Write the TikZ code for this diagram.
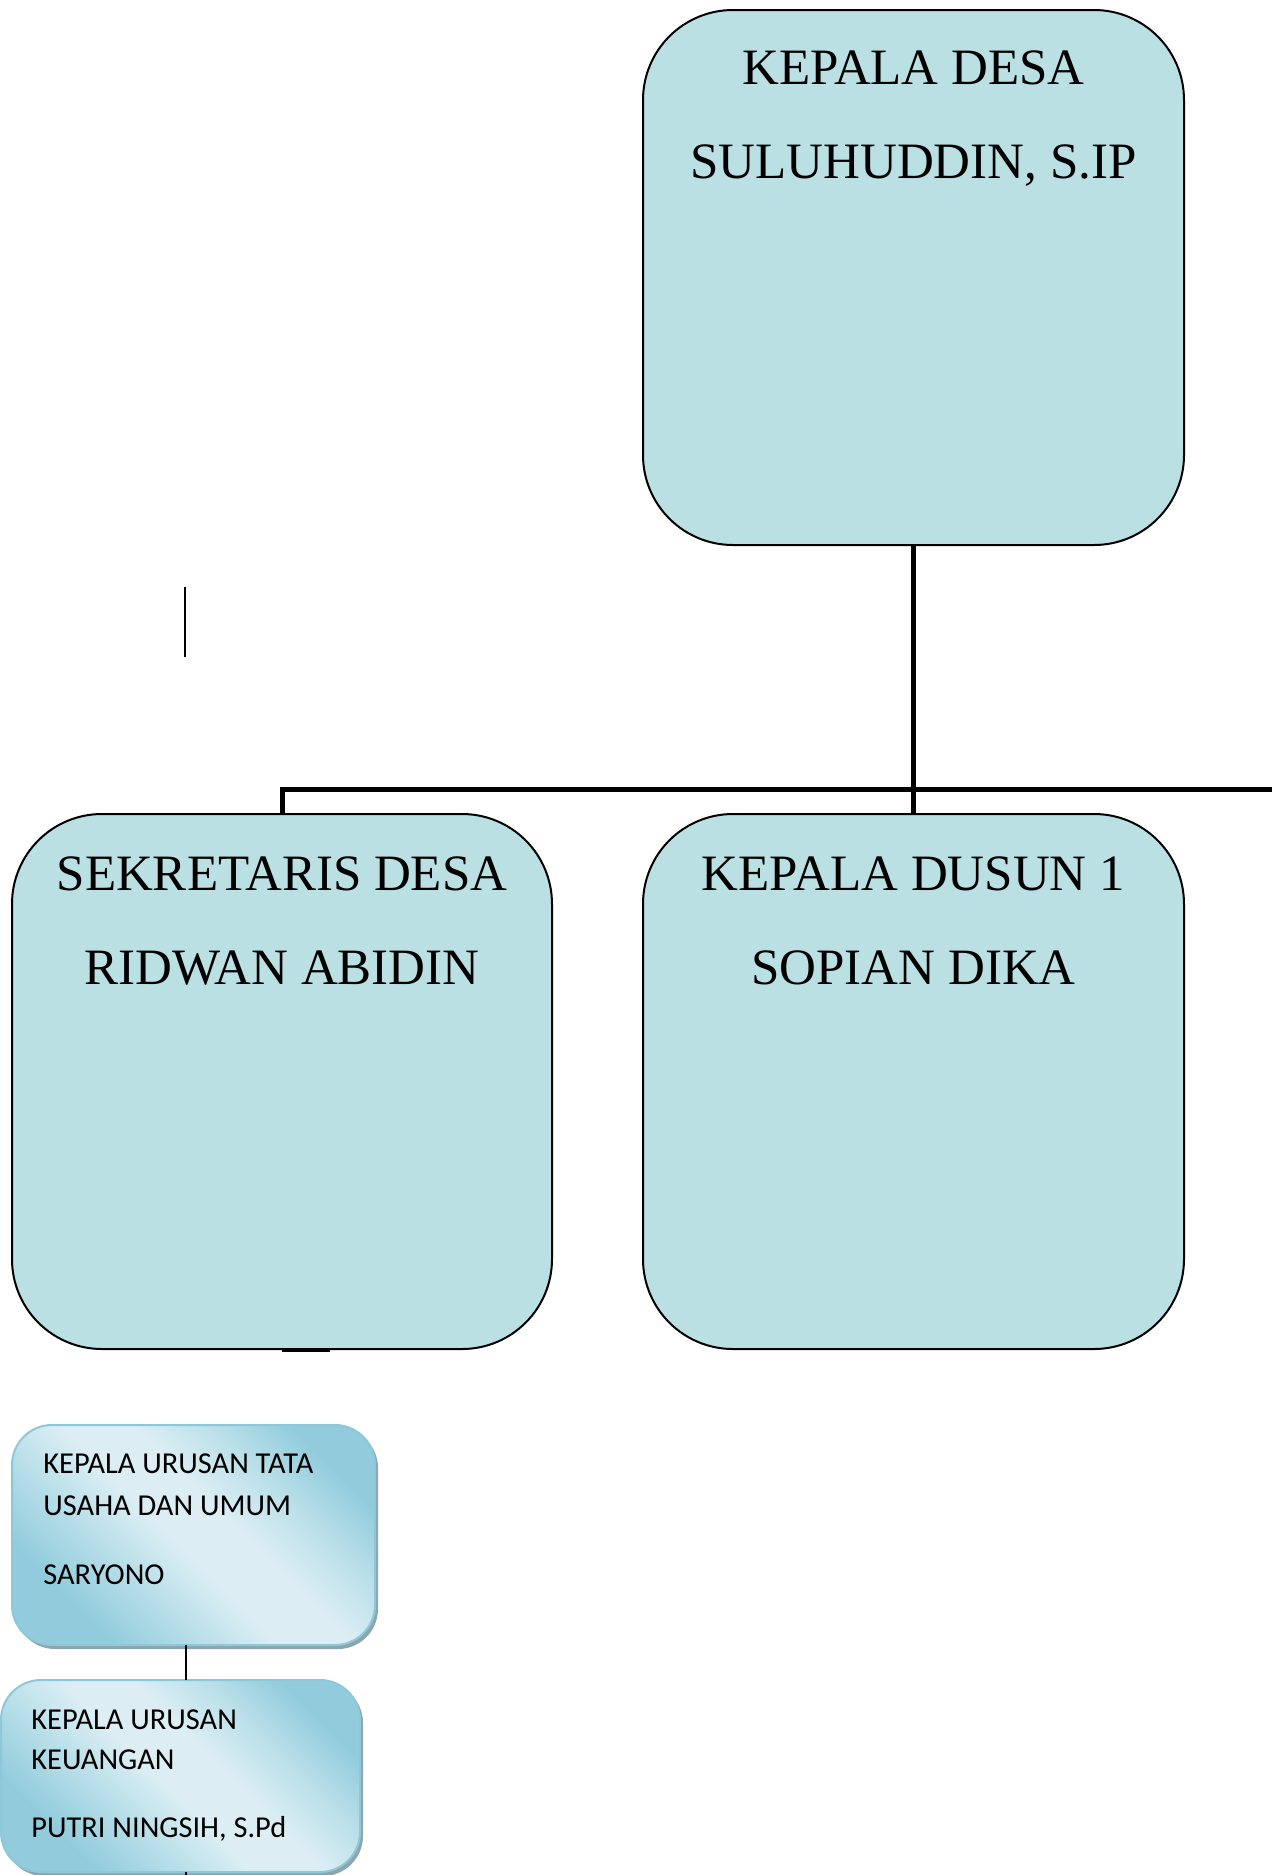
\documentclass[tikz,border=0pt]{standalone}
\usepackage{fontspec}
\newfontfamily\tnrfont{Liberation Serif}
\newfontfamily\calfont{Carlito}
\definecolor{bigfill}{RGB}{186,224,228}
\definecolor{gdark}{RGB}{146,204,220}
\definecolor{gmid}{RGB}{185,223,233}
\definecolor{glight}{RGB}{220,238,244}
\definecolor{gborder}{RGB}{140,200,218}
\definecolor{gshadow}{RGB}{140,165,175}
\pgfdeclareverticalshading{diagband}{100bp}{color(0bp)=(gdark); color(27bp)=(gdark); color(38bp)=(gmid); color(47bp)=(glight); color(56bp)=(glight); color(66bp)=(gmid); color(75bp)=(gdark); color(100bp)=(gdark)}
\tikzset{
  bigbox/.style={draw=black, line width=1pt, fill=bigfill, rounded corners=45pt, inner sep=0pt, outer sep=0pt},
  smallbox/.style={draw=gborder, line width=1pt, rounded corners=20pt, inner sep=0pt, outer sep=0pt,
    shade, shading=diagband, shading angle=-45},
  shadowbox/.style={fill=gshadow, rounded corners=20pt},
  bigtxt/.style={anchor=base, inner sep=0pt, font=\tnrfont\fontsize{25.5pt}{30pt}\selectfont},
  smalltxt/.style={anchor=base west, inner sep=0pt, font=\calfont\fontsize{15.2pt}{17pt}\selectfont},
  heavy/.style={line width=2.5pt},
  thinline/.style={line width=0.8pt}
}
\begin{document}
\begin{tikzpicture}[x=0.5pt,y=-0.5pt]
\useasboundingbox (0,0) rectangle (1272,1875);
% big boxes
\node[bigbox, minimum width=270.5pt, minimum height=267.5pt] (kdesa) at (913.5,277.5) {};
\node[bigbox, minimum width=270pt, minimum height=267.5pt] (sek) at (282,1081.5) {};
\node[bigbox, minimum width=270.5pt, minimum height=267.5pt] (dusun) at (913.5,1081.5) {};
% texts big
\node[bigtxt] (t1) at (913.5,84) {KEPALA DESA};
\node[bigtxt] (t2) at (913.5,178) {SULUHUDDIN, S.IP};
\node[bigtxt] (t3) at (282,890) {SEKRETARIS DESA};
\node[bigtxt] (t4) at (282,984) {RIDWAN ABIDIN};
\node[bigtxt] (t5) at (913.5,890) {KEPALA DUSUN 1};
\node[bigtxt] (t6) at (913.5,984) {SOPIAN DIKA};
% connectors
\coordinate (barR) at (1272,789);
\draw[heavy] (kdesa.south) -- (dusun.north);
\draw[heavy] (barR) -| (sek.north);
% stray lines
\coordinate (s1) at (185,587);
\coordinate (s2) at (185,657);
\draw[thinline] (s1) -- (s2);
\coordinate (u1) at (282,1350.5);
\coordinate (u2) at (330,1350.5);
\draw[line width=1.2pt] (u1) -- (u2);
% small boxes
\fill[shadowbox] (15,1428) rectangle (378,1649);
\fill[shadowbox] (4,1683) rectangle (363,1876);
\node[smallbox, minimum width=181.5pt, minimum height=110pt] (tu) at (193.5,1535) {};
\node[smallbox, minimum width=179.5pt, minimum height=96pt] (keu) at (180.5,1776) {};
\node[smalltxt] (a1) at (43,1473) {KEPALA URUSAN TATA};
\node[smalltxt] (a2) at (43,1515) {USAHA DAN UMUM};
\node[smalltxt] (a3) at (43,1584) {SARYONO};
\node[smalltxt] (b1) at (31,1729) {KEPALA URUSAN};
\node[smalltxt] (b2) at (31,1769) {KEUANGAN};
\node[smalltxt] (b3) at (31,1837) {PUTRI NINGSIH, S.Pd};
\coordinate (c1) at (186,1645);
\coordinate (c2) at (186,1680);
\draw[thinline] (tu.south -| c1) -- (keu.north -| c2);
\coordinate (c4) at (186,1875);
\draw[thinline] (keu.south -| c4) -- (c4);
\end{tikzpicture}
\end{document}
